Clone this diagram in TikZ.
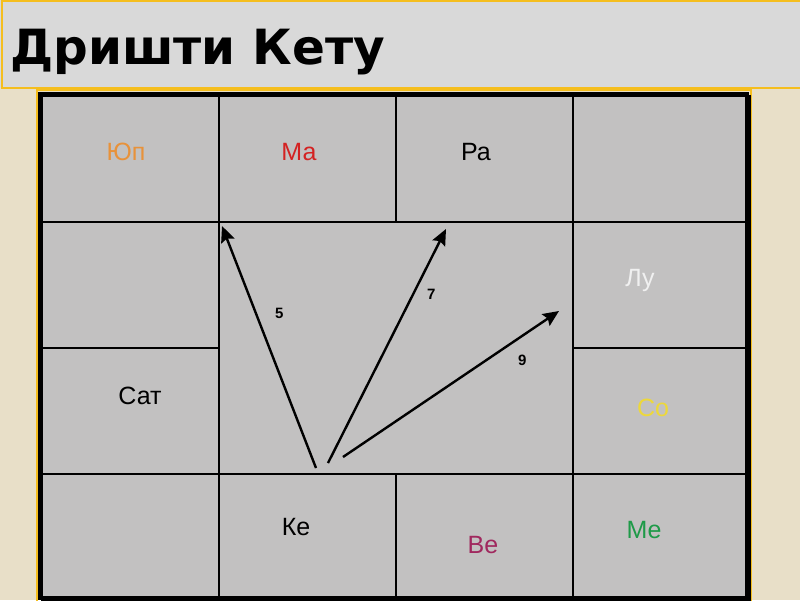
\documentclass[tikz,border=0pt]{standalone}
\usepackage{fontspec}
\setmainfont{Liberation Sans}
\newfontfamily\titlefont{DejaVu Sans}
\usepackage{xcolor}
\usetikzlibrary{arrows.meta, positioning}

\definecolor{beige}{HTML}{E8DFC8}
\definecolor{barGray}{HTML}{D9D9D9}
\definecolor{gold}{HTML}{F5BE1E}
\definecolor{cellGray}{HTML}{C2C1C1}
\definecolor{juOrange}{HTML}{E8923A}
\definecolor{maRed}{HTML}{D42222}
\definecolor{luWhite}{HTML}{F0F0F0}
\definecolor{soYellow}{HTML}{EDD83A}
\definecolor{vePurple}{HTML}{A0285E}
\definecolor{meGreen}{HTML}{1E9A48}

\begin{document}
\begin{tikzpicture}[x=1pt, y=-1pt]
\tikzstyle{cell} = [rectangle, draw, fill=cellGray, line width=2.2pt, anchor=north west, inner sep=0pt, minimum width=177, minimum height=126]
\tikzstyle{planet} = [inner sep=0pt, font=\fontsize{25}{29}\selectfont]
\tikzstyle{num} = [inner sep=0pt, font=\fontsize{15}{17}\selectfont\bfseries]
\tikzstyle{aspect} = [line width=2.4pt, -{Stealth[length=16pt, width=14pt, inset=2.5pt]}]

\useasboundingbox (0,0) rectangle (800,600);
\fill[beige] (0,0) rectangle (800,600);

% title bar
\fill[barGray] (0,0) rectangle (800,88);
\draw[gold, line width=2.5pt] (2,1) rectangle (806,88);
\node (title) [anchor=base west, inner sep=0pt, font=\titlefont\bfseries\fontsize{48.5}{54}\selectfont] at (10,64) {Дришти Кету};

% chart
\draw[gold, line width=1.5pt] (37,90) rectangle (751,604);
\node (c1) [cell] at (41,95) {};
\node (c2) [cell] at (218,95) {};
\node (c3) [cell] at (395,95) {};
\node (c4) [cell] at (572,95) {};
\node (c5) [cell] at (41,220.5) {};
\node (c6) [cell] at (41,346.5) {};
\node (c7) [cell] at (41,473) {};
\node (c8) [cell] at (218,473) {};
\node (c9) [cell] at (395,473) {};
\node (c10) [cell] at (572,473) {};
\node (c11) [cell] at (572,220.5) {};
\node (c12) [cell] at (572,346.5) {};
\node (mid) [cell, minimum width=354, minimum height=252.5] at (218,220.5) {};
\draw[line width=4.5pt] (40,94) rectangle (747,598);

% planets
\node (ju) [planet, text=juOrange] at (126,152) {Юп};
\node (ma) [planet, text=maRed] at (299,152) {Ма};
\node (ra) [planet] at (476,152) {Ра};
\node (lu) [planet, text=luWhite] at (640,280) {Лу};
\node (sat) [planet] at (140,396) {Сат};
\node (so) [planet, text=soYellow] at (653,408) {Со};
\node (ke) [planet] at (296,527) {Ке};
\node (ve) [planet, text=vePurple] at (483,545) {Ве};
\node (me) [planet, text=meGreen] at (644,530) {Ме};

% aspects of Ketu
\coordinate (ke5) at (316,468);
\coordinate (ke7) at (328,463);
\coordinate (ke9) at (343,457);
\coordinate (tip5) at (222,226);
\coordinate (tip7) at (446,229);
\coordinate (tip9) at (559,311);
\draw [aspect] (ke5) -- node[num, pos=0.64, right=18pt] {5} (tip5);
\draw [aspect] (ke7) -- node[num, pos=0.72, right=13pt] {7} (tip7);
\draw [aspect] (ke9) -- node[num, pos=0.83, below=18pt] {9} (tip9);

\end{tikzpicture}
\end{document}
